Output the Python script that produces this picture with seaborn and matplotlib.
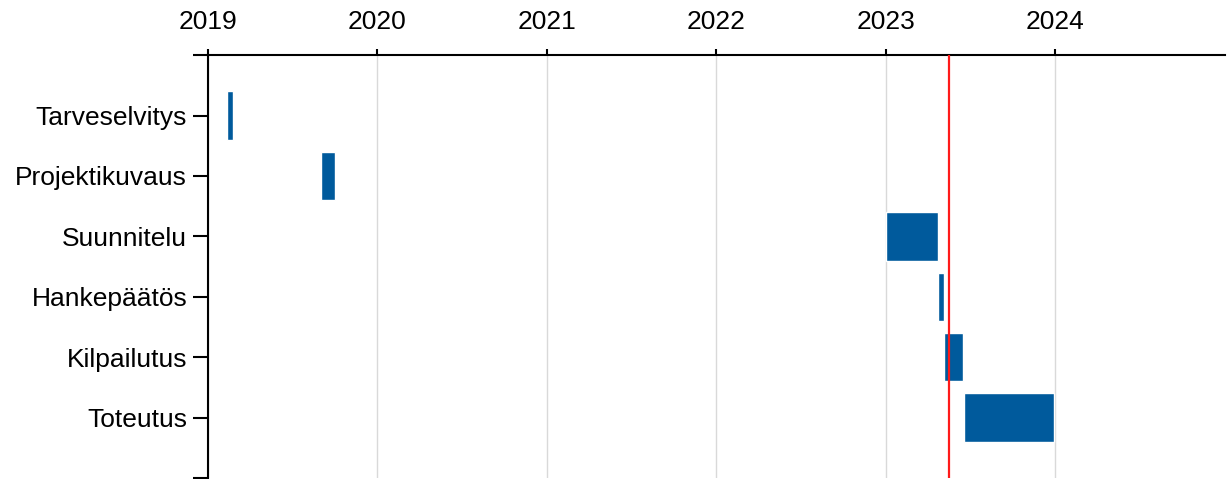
import numpy as np
import matplotlib
matplotlib.use("Agg")
import matplotlib.pyplot as plt
import seaborn as sns

# Phases and their start / end as decimal years
phases = ["Tarveselvitys", "Projektikuvaus", "Suunnitelu", "Hankepäätös", "Kilpailutus", "Toteutus"]
start = [2019.114, 2019.667, 2023.000, 2023.305, 2023.340, 2023.458]
end = [2019.150, 2019.750, 2023.305, 2023.340, 2023.455, 2023.990]
today = 2023.373
years = [2019, 2020, 2021, 2022, 2023, 2024]

sns.set_style("white")
plt.rcParams['font.family'] = ['Liberation Sans', 'DejaVu Sans']

fig = plt.figure(figsize=(12.32, 4.79), dpi=100)
ax = fig.add_axes([0.1688, 0.002, 0.8255, 0.883])

dur = np.array(end) - np.array(start)
ypos = np.arange(len(phases))
ax.barh(ypos, dur, left=start, height=0.8, color="#005a9c", zorder=3)
ax.axvline(today, color="#ff1a1a", lw=1.6, zorder=4)

ax.set_xlim(2019, 2025)
ax.set_ylim(len(phases), -1)
ax.set_xticks(years)
ax.set_xticklabels([str(y) for y in years])
ax.xaxis.tick_top()
ax.grid(axis="x", color="#d9d9d9", lw=1, zorder=0)
ax.grid(axis="y", visible=False)

ax.set_yticks(np.arange(-1, len(phases) + 1))
ax.set_yticklabels([""] + phases + [""])

for s in ["right", "bottom"]:
    ax.spines[s].set_visible(False)
for s in ["top", "left"]:
    ax.spines[s].set_color("black")
    ax.spines[s].set_linewidth(1.5)

ax.tick_params(axis="x", which="major", top=True, bottom=False, length=4, width=1.5,
               pad=11, labelsize=19, colors="black")
ax.tick_params(axis="y", left=True, length=11, width=1.5, pad=4, labelsize=19, colors="black")

fig.savefig("out.png", dpi=100)
